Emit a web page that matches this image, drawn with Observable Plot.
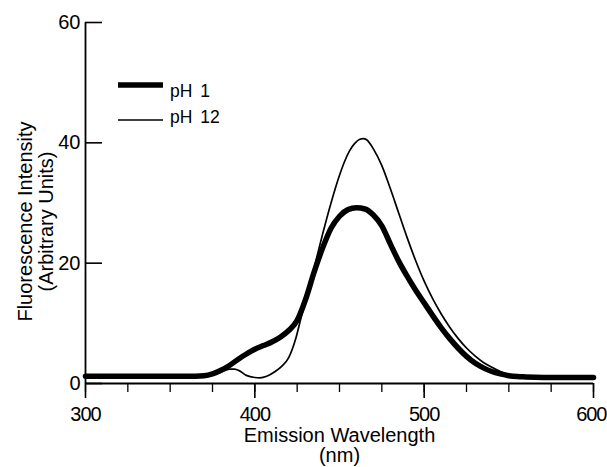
<!DOCTYPE html>
<html>
<head>
<meta charset="utf-8">
<script src="https://cdn.jsdelivr.net/npm/d3@7"></script>
<script src="https://cdn.jsdelivr.net/npm/@observablehq/plot@0.6"></script>
<style>
  body { margin: 0; background: #fff; }
  #chart { width: 607px; height: 467px; }
</style>
</head>
<body>
<div id="chart"></div>
<script>
// ---- Data ----
const pH1Wavelength = [300, 320, 340, 360, 370, 375, 380, 385, 390, 395, 400, 405, 410, 415, 420, 425, 430, 435, 440, 445, 450, 455, 460, 465, 470, 475, 480, 485, 490, 495, 500, 505, 510, 515, 520, 525, 530, 535, 540, 545, 550, 555, 560, 580, 600];
const pH1Intensity  = [1.2, 1.2, 1.2, 1.2, 1.3, 1.6, 2.2, 3.0, 4.0, 4.9, 5.7, 6.3, 6.9, 7.7, 8.8, 10.5, 14.0, 18.5, 22.5, 25.8, 27.8, 28.9, 29.2, 29.0, 28.0, 26.2, 23.2, 20.3, 17.8, 15.5, 13.4, 11.3, 9.3, 7.5, 5.9, 4.5, 3.4, 2.6, 2.0, 1.6, 1.3, 1.15, 1.1, 1.0, 1.0];

const pH12Wavelength = [300, 320, 340, 360, 370, 375, 380, 385, 388, 391, 395, 400, 403, 407, 412, 416, 420, 424, 427, 430, 435, 440, 445, 450, 453, 456, 459, 462, 464, 466, 470, 475, 480, 485, 490, 495, 500, 505, 510, 515, 520, 525, 530, 535, 540, 545, 550, 555, 560, 580, 600];
const pH12Intensity  = [1.2, 1.2, 1.2, 1.2, 1.3, 1.5, 1.9, 2.4, 2.4, 2.1, 1.35, 1.0, 0.95, 1.2, 2.0, 2.9, 4.3, 7.3, 10.6, 13.8, 19.2, 24.8, 30.0, 34.6, 36.9, 38.7, 39.9, 40.6, 40.7, 40.5, 39.0, 36.2, 32.4, 28.3, 24.2, 20.4, 17.0, 14.1, 11.6, 9.4, 7.5, 5.9, 4.6, 3.5, 2.7, 2.0, 1.5, 1.2, 1.05, 1.0, 1.0];

const xMajorTicks = [300, 400, 500, 600];
const xMinorTicks = [300, 325, 350, 375, 400, 425, 450, 475, 500, 525, 550, 575, 600];
const yTicks = [0, 20, 40, 60];

const seriesNames = ["pH 1", "pH 12"];
const xTitle = "Emission Wavelength\n(nm)";
const yTitle = "Fluorescence Intensity\n(Arbitrary Units)";

// ---- Build tables ----
const pH1 = pH1Wavelength.map((w, i) => ({w, v: pH1Intensity[i]}));
const pH12 = pH12Wavelength.map((w, i) => ({w, v: pH12Intensity[i]}));

const font = "'Liberation Sans', Arial, Helvetica, sans-serif";

const thickW = 5.5, thinW = 1.7;

const plot = Plot.plot({
  width: 607,
  height: 467,
  marginLeft: 85,
  marginRight: 14,
  marginTop: 22,
  marginBottom: 84,
  style: {background: "#fff", color: "#000", fontFamily: font, overflow: "visible"},
  x: {domain: [300, 600]},
  y: {domain: [0, 60]},
  marks: [
    Plot.axisX({ticks: xMinorTicks, tickSize: 9, text: null, label: null, strokeWidth: 1.3}),
    Plot.axisX({ticks: xMajorTicks, tickSize: 15, text: null, label: null, strokeWidth: 1.6}),
    Plot.axisX({ticks: xMajorTicks, tickSize: 0, tickPadding: 23, label: null, fontSize: 20, fontFamily: font}),
    Plot.axisY({ticks: yTicks, tickSize: -17, text: null, label: null, strokeWidth: 1.6}),
    Plot.axisY({ticks: yTicks, tickSize: 0, tickPadding: 5, label: null, fontSize: 20, fontFamily: font}),
    Plot.ruleX([300], {strokeWidth: 1.8}),
    Plot.ruleY([0], {strokeWidth: 1.8}),
    Plot.line(pH12, {x: "w", y: "v", curve: "monotone-x", stroke: "#000", strokeWidth: thinW}),
    Plot.line(pH1, {x: "w", y: "v", curve: "monotone-x", stroke: "#000", strokeWidth: thickW}),
    Plot.text([xTitle], {frameAnchor: "bottom", textAnchor: "middle", lineAnchor: "top", dy: 44, fontSize: 20, lineHeight: 1.0, fill: "#000"}),
    Plot.text([yTitle], {frameAnchor: "left", textAnchor: "middle", rotate: -90, lineAnchor: "middle", dx: -50, dy: 18.5, fontSize: 20, lineHeight: 1.05, fill: "#000"})
  ]
});

document.getElementById("chart").appendChild(plot);

// x tick labels slightly condensed like the reference; keep the last one inside the edge
const xLabels = d3.select(plot).selectAll("[aria-label='x-axis tick label'] text")
  .style("letter-spacing", "-1px");
xLabels.filter(function () { return this.textContent === String(xMajorTicks[xMajorTicks.length - 1]); })
  .attr("text-anchor", "end")
  .attr("dx", 13);

// ---- Legend (inside the plot area, top-left) ----
const legend = d3.select(plot).append("g")
  .attr("font-family", font)
  .attr("font-size", 17.5)
  .attr("text-anchor", "start");
const legendRows = [
  {name: seriesNames[0], w: thickW, lineY: 85, textY: 97},
  {name: seriesNames[1], w: thinW, lineY: 120, textY: 123}
];
legendRows.forEach(r => {
  legend.append("line")
    .attr("x1", 118).attr("x2", 163)
    .attr("y1", r.lineY).attr("y2", r.lineY)
    .attr("stroke", "#000").attr("stroke-width", r.w);
  legend.append("text")
    .attr("x", 170).attr("y", r.textY)
    .attr("fill", "#000")
    .attr("text-anchor", "start")
    .style("word-spacing", "3px")
    .text(r.name);
});
</script>
</body>
</html>
